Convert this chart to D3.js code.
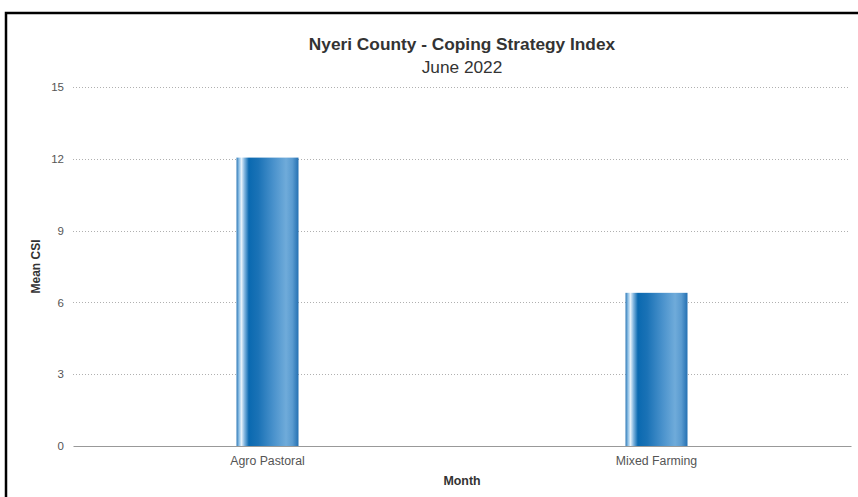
<!DOCTYPE html>
<html><head><meta charset="utf-8">
<script src="https://cdn.jsdelivr.net/npm/d3@7"></script>
<style>
html,body{margin:0;padding:0;background:#fff;}
svg{display:block;font-family:"Liberation Sans",Arial,Helvetica,sans-serif;}
</style></head>
<body>
<svg id="c" width="858" height="497"></svg>
<script>
const categories = ["Agro Pastoral", "Mixed Farming"];
const values = [12.05, 6.4];
const yTicks = [0, 3, 6, 9, 12, 15];
const titleText = "Nyeri County - Coping Strategy Index";
const subtitleText = "June 2022";
const yTitle = "Mean CSI";
const xTitle = "Month";

(function () {
const svg = d3.select("#c");
const W = 858, H = 497;
const mLeft = 73, mRight = 851, mTop = 87, mBottom = 446;

// frame
svg.append("rect").attr("x", 6).attr("y", 13).attr("width", W + 10).attr("height", H + 10)
  .attr("fill", "#fff").attr("stroke", "#000").attr("stroke-width", 2.5);

const x = d3.scaleBand().domain(categories).range([mLeft, mRight]).paddingInner(0).paddingOuter(0);
const y = d3.scaleLinear().domain([0, 15]).range([mBottom, mTop]);

// gradient
const defs = svg.append("defs");
const g = defs.append("linearGradient").attr("id", "barGrad").attr("x1", "0").attr("x2", "1").attr("y1", "0").attr("y2", "0");
[[0, "#2d77b5"], [0.04, "#8dc0e6"], [0.08, "#e6f2fb"], [0.13, "#7fb4de"], [0.2, "#0a69b0"], [0.35, "#1a72b6"], [0.6, "#4a92cc"], [0.8, "#6fabda"], [0.9, "#5a9bd0"], [1, "#2470b2"]]
  .forEach(([o, c]) => g.append("stop").attr("offset", o).attr("stop-color", c));

// gridlines
svg.append("g").selectAll("line").data(yTicks.filter(d => d > 0)).join("line")
  .attr("x1", mLeft).attr("x2", mRight - 1)
  .attr("y1", d => Math.round(y(d)) + 0.5).attr("y2", d => Math.round(y(d)) + 0.5)
  .attr("stroke", "#b0b0b0").attr("stroke-width", 1).attr("stroke-dasharray", "1,2");

// y axis labels
const ya = svg.append("g").attr("transform", `translate(${mLeft},0)`)
  .call(d3.axisLeft(y).tickValues(yTicks).tickSize(0).tickPadding(9));
ya.select(".domain").remove();
ya.selectAll("text").attr("fill", "#555").attr("font-size", 11.5)
  .attr("font-family", '"Liberation Sans",Arial,sans-serif');

// bars
const bw = 62;
svg.append("g").selectAll("rect").data(values).join("rect")
  .attr("x", (d, i) => x(categories[i]) + x.bandwidth() / 2 - bw / 2)
  .attr("width", bw)
  .attr("y", d => y(d)).attr("height", d => y(0) - y(d))
  .attr("fill", "url(#barGrad)");

// x axis
const xa = svg.append("g").attr("transform", `translate(0,${mBottom})`)
  .call(d3.axisBottom(x).tickSize(0).tickPadding(10));
xa.select(".domain").attr("stroke", "#999").attr("stroke-width", 1);
xa.selectAll("text").attr("fill", "#555").attr("font-size", 12.3)
  .attr("font-family", '"Liberation Sans",Arial,sans-serif');

// titles
const cx = (mLeft + mRight) / 2;
svg.append("text").attr("x", cx).attr("y", 50).attr("text-anchor", "middle")
  .attr("font-size", 17.3).attr("font-weight", "bold").attr("fill", "#333").text(titleText);
svg.append("text").attr("x", cx).attr("y", 73).attr("text-anchor", "middle")
  .attr("font-size", 17.3).attr("fill", "#333").text(subtitleText);
svg.append("text").attr("transform", `translate(40,${(mTop + mBottom) / 2}) rotate(-90)`)
  .attr("text-anchor", "middle").attr("font-size", 12).attr("font-weight", "bold").attr("fill", "#333").text(yTitle);
svg.append("text").attr("x", cx).attr("y", 485).attr("text-anchor", "middle")
  .attr("font-size", 12.4).attr("font-weight", "bold").attr("fill", "#333").text(xTitle);
})();
</script>
</body></html>
